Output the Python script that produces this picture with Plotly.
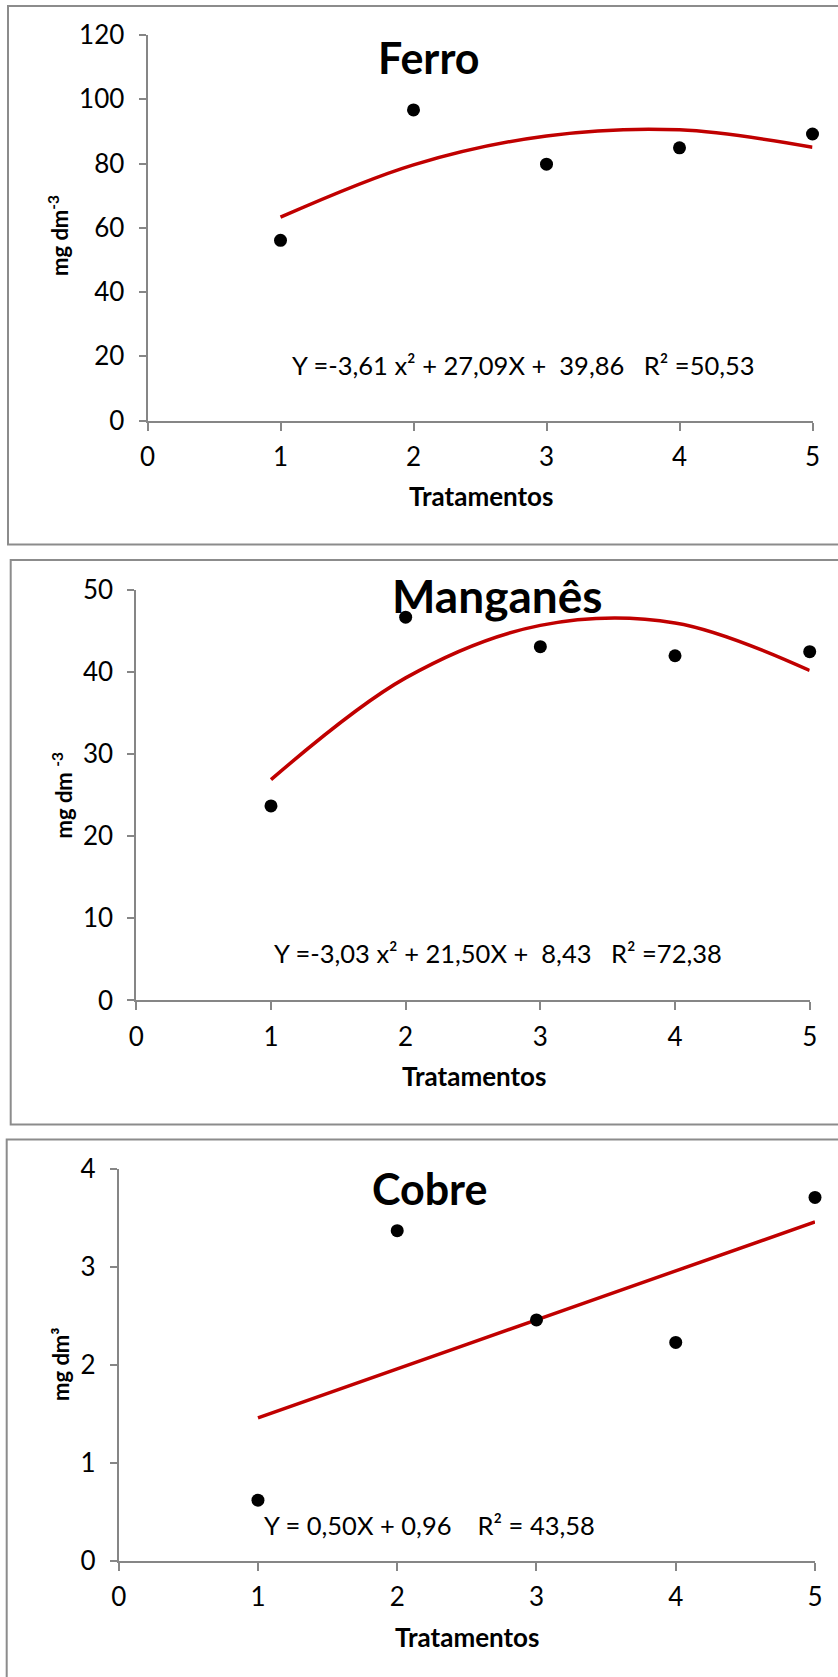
import plotly.graph_objects as go

W, H = 838, 1677

# ---------------- data ----------------
tratamentos = [1, 2, 3, 4, 5]
x_ticks = [0, 1, 2, 3, 4, 5]

fe_obs = [56.1, 96.7, 79.8, 84.9, 89.2]
fe_fit = [63.3, 79.6, 88.6, 90.5, 85.1]
fe_yticks = [0, 20, 40, 60, 80, 100, 120]

mn_obs = [23.7, 46.7, 43.1, 42.0, 42.5]
mn_fit = [26.9, 39.3, 45.7, 46.0, 40.2]
mn_yticks = [0, 10, 20, 30, 40, 50]

cu_obs = [0.62, 3.37, 2.46, 2.23, 3.71]
cu_fit = [1.46, 1.96, 2.46, 2.96, 3.46]
cu_yticks = [0, 1, 2, 3, 4]

titles = ["Ferro", "Manganês", "Cobre"]
ytitles = ["mg dm<sup>-3</sup>", "mg dm <sup>-3</sup>", "mg dm³"]
xtitle = "Tratamentos"
equations = [
    "Y =-3,61 x² + 27,09X +\u00a0\u00a039,86\u00a0\u00a0\u00a0R² =50,53",
    "Y =-3,03 x² + 21,50X +\u00a0\u00a08,43\u00a0\u00a0\u00a0R² =72,38",
    "Y = 0,50X + 0,96\u00a0\u00a0\u00a0\u00a0R² = 43,58",
]

# ---------------- layout geometry (pixels) ----------------
FONT = "Lato, 'Open Sans', sans-serif"
AXIS_GRAY = "#868686"
RED = "#C00000"


def px_x(p):
    return p / W


def px_y(p):
    return 1 - p / H


panels = [
    dict(obs=fe_obs, fit=fe_fit, yticks=fe_yticks, plot=(147.5, 35.1, 812.5, 420.5),
         box=(8, 6, 845, 544.5), title=(429, 57), tsize=43, ytitle=(59, 236), xtitle=(481, 496),
         eq=(523.5, 365)),
    dict(obs=mn_obs, fit=mn_fit, yticks=mn_yticks, plot=(136.3, 590.1, 809.7, 1000.4),
         box=(10.7, 560, 845, 1124.4), title=(497.5, 595), tsize=46, ytitle=(62, 795.5),
         xtitle=(473.5, 1075.8), eq=(498.4, 953)),
    dict(obs=cu_obs, fit=cu_fit, yticks=cu_yticks, plot=(118.7, 1169, 815, 1560.9),
         box=(6.7, 1139.5, 845, 1690), title=(429.7, 1188.5), tsize=43, ytitle=(60, 1364),
         xtitle=(467, 1637), eq=(429, 1525)),
]

fig = go.Figure()
shapes = []
annotations = []

for i, p in enumerate(panels):
    n = "" if i == 0 else str(i + 1)
    xa, ya = "x" + n, "y" + n
    x0, y0, x1, y1 = p["plot"]

    fig.add_trace(go.Scatter(
        x=tratamentos, y=p["fit"], xaxis=xa, yaxis=ya, mode="lines",
        line=dict(color=RED, width=3.5, shape="spline", smoothing=1.0),
        cliponaxis=False, showlegend=False, hoverinfo="skip"))
    fig.add_trace(go.Scatter(
        x=tratamentos, y=p["obs"], xaxis=xa, yaxis=ya, mode="markers",
        marker=dict(color="black", size=13), cliponaxis=False, showlegend=False))

    ymax = p["yticks"][-1]
    fig.layout["xaxis" + n] = dict(
        domain=[px_x(x0), px_x(x1)], range=[0, 5], anchor=ya, automargin=False,
        tickmode="array", tickvals=x_ticks, ticktext=[str(v) for v in x_ticks],
        showgrid=False, zeroline=False, showline=True, linecolor=AXIS_GRAY, linewidth=2,
        ticks="outside", ticklen=8, tickwidth=2, tickcolor=AXIS_GRAY,
        ticklabelstandoff=4,
        tickfont=dict(family=FONT, size=26, color="#000000"), fixedrange=True)
    fig.layout["yaxis" + n] = dict(
        domain=[px_y(y1), px_y(y0)], range=[0, ymax], anchor=xa, automargin=False,
        tickmode="array", tickvals=p["yticks"], ticktext=[str(v) for v in p["yticks"]],
        showgrid=False, zeroline=False, showline=True, linecolor=AXIS_GRAY, linewidth=2,
        ticks="outside", ticklen=7, tickwidth=2, tickcolor=AXIS_GRAY,
        ticklabelstandoff=9,
        tickfont=dict(family=FONT, size=26, color="#000000"), fixedrange=True)

    bx0, by0, bx1, by1 = p["box"]
    shapes.append(dict(type="rect", xref="paper", yref="paper",
                       x0=px_x(bx0), x1=px_x(bx1), y0=px_y(by1), y1=px_y(by0),
                       line=dict(color="#8C8C8C", width=2), fillcolor="rgba(0,0,0,0)",
                       layer="below"))

    tx, ty = p["title"]
    annotations.append(dict(text=titles[i], xref="paper", yref="paper",
                            x=px_x(tx), y=px_y(ty), xanchor="center", yanchor="middle",
                            showarrow=False, font=dict(family=FONT, size=p["tsize"],
                                                       color="#000000", weight="bold")))
    yx, yy = p["ytitle"]
    annotations.append(dict(text=ytitles[i], xref="paper", yref="paper",
                            x=px_x(yx), y=px_y(yy), xanchor="center", yanchor="middle",
                            textangle=-90, showarrow=False,
                            font=dict(family=FONT, size=22, color="#000000", weight="bold")))
    xx, xy = p["xtitle"]
    annotations.append(dict(text=xtitle, xref="paper", yref="paper",
                            x=px_x(xx), y=px_y(xy), xanchor="center", yanchor="middle",
                            showarrow=False,
                            font=dict(family=FONT, size=26, color="#000000", weight="bold")))
    ex, ey = p["eq"]
    annotations.append(dict(text=equations[i], xref="paper", yref="paper",
                            x=px_x(ex), y=px_y(ey), xanchor="center", yanchor="middle",
                            showarrow=False,
                            font=dict(family=FONT, size=25.5, color="#000000")))

fig.update_layout(
    width=W, height=H, autosize=False,
    margin=dict(l=0, r=0, t=0, b=0, pad=0),
    paper_bgcolor="white", plot_bgcolor="white",
    shapes=shapes, annotations=annotations,
    font=dict(family=FONT, color="#000000"),
)

fig.write_html("out.html", config={"displayModeBar": False},
               post_script="document.body.style.margin='0px';")
